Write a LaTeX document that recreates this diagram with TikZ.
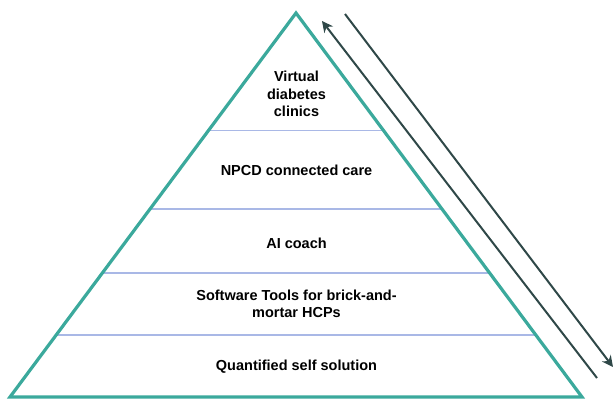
\documentclass[tikz,border=0pt]{standalone}
\usepackage{fontspec}
\setmainfont{Liberation Sans}
\usetikzlibrary{arrows.meta}
\definecolor{pyrteal}{HTML}{3BA99C}
\definecolor{tierline}{HTML}{A9B8E6}
\definecolor{arrowdark}{HTML}{2F4848}
\tikzset{
  tier/.style={font=\bfseries\fontsize{14.5}{17.5}\selectfont, align=center, text=black, inner sep=0pt},
  divider/.style={draw=tierline, line width=1.2pt},
  flow/.style={draw=arrowdark, line width=2pt, -{Stealth[length=11pt,width=11pt,inset=3.5pt]}}
}
\begin{document}
\begin{tikzpicture}[x=1pt,y=-1pt]
\useasboundingbox (0,0) rectangle (614,404);
% pyramid outline
\coordinate (apex) at (296,13);
\coordinate (bl) at (10,397);
\coordinate (br) at (582,397);
% tier dividers (end points on the sloped sides)
\foreach \n/\y in {a/130.5,b/209,c/273,d/335}{
  \pgfmathsetmacro{\hw}{(\y-13)*0.7448}
  \coordinate (\n L) at ({296-\hw},\y);
  \coordinate (\n R) at ({296+\hw},\y);
  \draw[divider] (\n L) -- (\n R);
}
\draw[draw=pyrteal, line width=3.2pt, line join=miter] (apex) -- (br) -- (bl) -- cycle;
% tier labels
\node[tier] (t1) at (296.5,94) {Virtual\\diabetes\\clinics};
\node[tier] (t2) at (296.5,170) {NPCD connected care};
\node[tier] (t3) at (296.5,243) {AI coach};
\node[tier] (t4) at (296.5,304) {Software Tools for brick-and-\\mortar HCPs};
\node[tier] (t5) at (296.5,367) {Quantified self solution};
% two-way flow arrows along the right side
\coordinate (upS) at (597,378);
\coordinate (upE) at (322,21);
\coordinate (dnS) at (345,14);
\coordinate (dnE) at (613,367);
\draw[flow] (upS) -- (upE);
\draw[flow] (dnS) -- (dnE);
\end{tikzpicture}
\end{document}
